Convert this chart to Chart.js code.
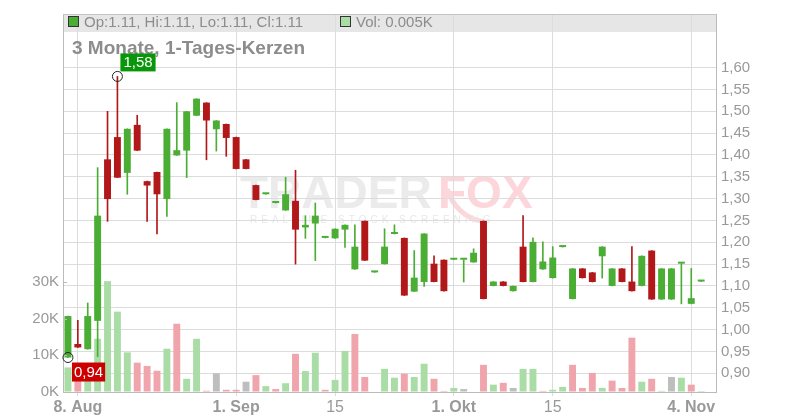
<!DOCTYPE html>
<html lang="de">
<head>
<meta charset="UTF-8">
<title>3 Monate, 1-Tages-Kerzen</title>
<style>
  html, body { margin:0; padding:0; background:#fff; }
  #wrap { width:800px; height:420px; }
</style>
</head>
<body>
<div id="wrap"><canvas id="myChart"></canvas></div>

<script src="https://cdn.jsdelivr.net/npm/chart.js@4.4.1/dist/chart.umd.min.js"></script>
<script>
// Handelstage (der letzte Eintrag ist ein leerer Platz rechts)
var dates = [
  '2024-08-07','2024-08-08','2024-08-09','2024-08-12','2024-08-13','2024-08-14','2024-08-15','2024-08-16',
  '2024-08-19','2024-08-20','2024-08-21','2024-08-22','2024-08-23','2024-08-26','2024-08-27','2024-08-28',
  '2024-08-29','2024-08-30',
  '2024-09-02','2024-09-03','2024-09-04','2024-09-05','2024-09-06','2024-09-09','2024-09-10','2024-09-11',
  '2024-09-12','2024-09-13','2024-09-16','2024-09-17','2024-09-18','2024-09-19','2024-09-20','2024-09-23',
  '2024-09-24','2024-09-25','2024-09-26','2024-09-27','2024-09-30',
  '2024-10-01','2024-10-02','2024-10-03','2024-10-04','2024-10-07','2024-10-08','2024-10-09','2024-10-10',
  '2024-10-11','2024-10-14','2024-10-15','2024-10-16','2024-10-17','2024-10-18','2024-10-21','2024-10-22',
  '2024-10-23','2024-10-24','2024-10-25','2024-10-28','2024-10-29','2024-10-30','2024-10-31',
  '2024-11-01','2024-11-04','2024-11-05','2024-11-06'
];

var opens  = [0.936,0.967,0.955,1.020,1.390,1.441,1.359,1.469,1.340,1.361,1.299,1.399,1.410,1.490,1.520,1.459,
              1.471,1.441,1.390,1.331,1.310,1.290,1.273,1.295,1.234,1.243,1.210,1.209,1.229,1.138,1.249,1.131,
              1.150,1.219,1.210,1.087,1.109,1.151,1.160,1.160,1.160,1.154,1.249,1.100,1.110,1.088,1.190,1.109,
              1.138,1.118,1.189,1.070,1.140,1.131,1.168,1.100,1.140,1.110,1.100,1.181,1.069,1.069,1.151,1.059,
              1.110];
var highs  = [1.031,1.021,1.061,1.371,1.500,1.580,1.460,1.491,1.340,1.361,1.460,1.520,1.500,1.529,1.520,1.479,
              1.471,1.441,1.390,1.331,1.310,1.290,1.349,1.365,1.261,1.290,1.210,1.231,1.240,1.240,1.249,1.131,
              1.231,1.240,1.210,1.181,1.220,1.169,1.160,1.160,1.160,1.185,1.249,1.110,1.110,1.100,1.261,1.210,
              1.201,1.190,1.189,1.140,1.140,1.131,1.190,1.140,1.140,1.190,1.169,1.181,1.140,1.140,1.151,1.140,
              1.110];
var lows   = [0.936,0.959,0.955,0.938,1.248,1.348,1.310,1.410,1.248,1.219,1.259,1.399,1.348,1.490,1.389,1.409,
              1.397,1.368,1.368,1.297,1.310,1.290,1.273,1.150,1.209,1.158,1.210,1.209,1.188,1.138,1.158,1.131,
              1.150,1.219,1.078,1.087,1.099,1.109,1.088,1.160,1.109,1.154,1.070,1.100,1.100,1.088,1.109,1.109,
              1.138,1.118,1.189,1.070,1.118,1.109,1.118,1.100,1.109,1.088,1.100,1.069,1.069,1.069,1.059,1.059,
              1.110];
var closes = [1.031,0.959,1.031,1.261,1.299,1.348,1.460,1.410,1.330,1.310,1.460,1.411,1.500,1.529,1.479,1.479,
              1.439,1.368,1.368,1.297,1.310,1.290,1.310,1.229,1.240,1.261,1.210,1.231,1.240,1.190,1.158,1.131,
              1.190,1.219,1.078,1.119,1.220,1.109,1.088,1.160,1.160,1.176,1.070,1.110,1.100,1.100,1.109,1.201,
              1.156,1.165,1.189,1.140,1.118,1.109,1.190,1.140,1.109,1.088,1.169,1.069,1.140,1.140,1.151,1.072,
              1.110];
// Stueck
var volumes = [6700,5000,3000,14500,30200,21900,10800,8000,7100,5800,11800,18600,3600,14500,350,5100,
               600,600,2800,4600,1600,800,2400,10400,5700,10700,600,3300,11200,15800,4100,0,
               6300,3900,5000,4100,7700,3600,300,1100,800,0,7400,2000,2500,1100,6300,6300,
               300,600,1400,7400,1100,5200,1100,3100,1100,14800,2800,3600,300,4100,3900,2000,
               5];

var priceTicks = [0.90,0.95,1.00,1.05,1.10,1.15,1.20,1.25,1.30,1.35,1.40,1.45,1.50,1.55,1.60];
var volTicks = [0,10000,20000,30000];
var xTickDates = ['2024-08-08','2024-08-30','2024-09-13','2024-10-01','2024-10-15','2024-11-04'];
var xTickLabels = ['8. Aug','1. Sep','15','1. Okt','15','4. Nov'];

var FONT = '"Liberation Sans", Arial, sans-serif';
var C_UP = '#4aad34', C_DOWN = '#b2181a';
var V_UP = '#aadca5', V_DOWN = '#f0a5ac', V_EQ = '#bebebe';

// Kerzen: Farbe nach Open/Close, Volumen nach Close zum Vortag
var candleColors = [], volColors = [], bodies = [], wicks = [];
for (var i = 0; i < closes.length; i++) {
  candleColors.push(closes[i] >= opens[i] ? C_UP : C_DOWN);
  bodies.push([Math.min(opens[i], closes[i]), Math.max(opens[i], closes[i])]);
  wicks.push([lows[i], highs[i]]);
  if (i == 0 || closes[i] > closes[i-1]) volColors.push(V_UP);
  else if (closes[i] < closes[i-1]) volColors.push(V_DOWN);
  else volColors.push(V_EQ);
}

function fmt(v){ return v.toFixed(2).replace('.', ','); }

var kopfPlugin = {
  id: 'kopf',
  beforeDraw: function(chart){
    var ctx = chart.ctx, a = chart.chartArea;
    ctx.save();
    // graues Band oben
    ctx.fillStyle = '#e6e6e6';
    ctx.fillRect(a.left, a.top, a.right - a.left, 18);
    // Wasserzeichen
    ctx.font = 'bold 46px ' + FONT;
    ctx.textBaseline = 'alphabetic';
    ctx.fillStyle = '#ebebeb';
    ctx.fillText('TRADER', 240, 208);
    ctx.fillStyle = '#fcd6db';
    ctx.fillText('FOX', 438, 208);
    ctx.strokeStyle = '#fcd6db';
    ctx.lineWidth = 5;
    ctx.beginPath();
    ctx.arc(490, 178, 44, 0.55 * Math.PI, 0.92 * Math.PI);
    ctx.stroke();
    ctx.font = '10px ' + FONT;
    ctx.letterSpacing = '4px';
    ctx.fillStyle = '#e8e8e8';
    ctx.fillText('REALTIME STOCK SCREENING', 250, 223);
    ctx.restore();
  },
  afterDraw: function(chart){
    var ctx = chart.ctx, a = chart.chartArea;
    var xs = chart.scales.x, ys = chart.scales.y, vs = chart.scales.yv;
    var n = closes.length - 1;
    ctx.save();
    // Rahmen oben
    ctx.strokeStyle = '#c4c4c4';
    ctx.lineWidth = 1;
    ctx.beginPath();
    ctx.moveTo(a.left, a.top + 0.5);
    ctx.lineTo(a.right, a.top + 0.5);
    ctx.stroke();
    // kleine Striche am Volumen-Achse
    ctx.strokeStyle = '#bbb';
    vs.ticks.forEach(function(t){
      var y = Math.round(vs.getPixelForValue(t.value)) + 0.5;
      ctx.beginPath();
      ctx.moveTo(a.left, y);
      ctx.lineTo(a.left + 4, y);
      ctx.stroke();
    });
    // Legende im Band
    ctx.lineWidth = 1;
    ctx.strokeStyle = '#333';
    ctx.fillStyle = C_UP;
    ctx.fillRect(68.5, 16.5, 10, 10);
    ctx.strokeRect(68.5, 16.5, 10, 10);
    ctx.fillStyle = V_UP;
    ctx.fillRect(340.5, 16.5, 10, 10);
    ctx.strokeRect(340.5, 16.5, 10, 10);
    ctx.font = '15px ' + FONT;
    ctx.fillStyle = '#8c8c8c';
    ctx.textBaseline = 'alphabetic';
    ctx.fillText('Op:' + opens[n].toFixed(2) + ', Hi:' + highs[n].toFixed(2) + ', Lo:' + lows[n].toFixed(2) +
                 ', Cl:' + closes[n].toFixed(2), 84, 27);
    ctx.fillText('Vol: ' + (volumes[n] / 1000).toFixed(3) + 'K', 356, 27);
    // Titel
    ctx.font = 'bold 19px ' + FONT;
    ctx.fillText('3 Monate, 1-Tages-Kerzen', 72, 54);

    // Hoch / Tief markieren
    var hi = 0, lo = 0;
    for (var i = 1; i < highs.length; i++) {
      if (highs[i] > highs[hi]) hi = i;
      if (lows[i] < lows[lo]) lo = i;
    }
    ctx.font = '15px ' + FONT;
    ctx.textAlign = 'center';
    ctx.textBaseline = 'middle';
    var px = xs.getPixelForValue(hi), py = ys.getPixelForValue(highs[hi]);
    var txt = fmt(highs[hi]), w = ctx.measureText(txt).width + 6;
    ctx.fillStyle = '#0a960a';
    ctx.fillRect(px + 3, py - 23, w, 18);
    ctx.fillStyle = '#fff';
    ctx.fillText(txt, px + 3 + w / 2, py - 13.5);
    ctx.strokeStyle = '#222';
    ctx.beginPath();
    ctx.arc(px, py, 5, 0, 2 * Math.PI);
    ctx.stroke();

    px = xs.getPixelForValue(lo); py = ys.getPixelForValue(lows[lo]);
    txt = fmt(lows[lo]); w = ctx.measureText(txt).width + 4;
    ctx.fillStyle = '#cc0000';
    ctx.fillRect(px + 4, py + 5, w, 19);
    ctx.fillStyle = '#fff';
    ctx.fillText(txt, px + 4 + w / 2, py + 15);
    ctx.strokeStyle = '#222';
    ctx.beginPath();
    ctx.arc(px, py, 5, 0, 2 * Math.PI);
    ctx.stroke();
    ctx.restore();
  }
};

const ctx = document.getElementById('myChart').getContext('2d');
const myChart = new Chart(ctx, {
  type: 'bar',
  data: {
    labels: dates,
    datasets: [{
      label: 'Volumen',
      yAxisID: 'yv',
      data: volumes,
      backgroundColor: volColors,
      barPercentage: 0.7,
      categoryPercentage: 1,
      grouped: false,
      order: 3
    },{
      label: 'Docht',
      yAxisID: 'y',
      data: wicks,
      backgroundColor: candleColors,
      barThickness: 1,
      grouped: false,
      order: 2
    },{
      label: 'Kerze',
      yAxisID: 'y',
      data: bodies,
      backgroundColor: candleColors,
      barPercentage: 0.7,
      categoryPercentage: 1,
      minBarLength: 2,
      grouped: false,
      order: 1
    }]
  },
  options: {
    responsive: true,
    maintainAspectRatio: false,
    animation: false,
    layout: { padding: { top: 12, left: 0, right: 0, bottom: 0 } },
    plugins: { legend: { display: false }, tooltip: { enabled: false } },
    scales: {
      x: {
        offset: true,
        grid: { offset: false, color: '#dcdcdc', tickLength: 4 },
        border: { color: '#bbb' },
        afterBuildTicks: function(s){
          s.ticks = xTickDates.map(function(d){ return { value: dates.indexOf(d) }; });
        },
        afterFit: function(s){ s.height = 28; },
        ticks: {
          autoSkip: false,
          maxRotation: 0,
          padding: 2,
          color: '#999',
          font: function(c){
            var lab = xTickLabels[c.index] || '';
            return { family: FONT, size: 16, weight: lab.indexOf('.') >= 0 ? 'bold' : 'normal' };
          },
          callback: function(v, i){ return xTickLabels[i]; }
        }
      },
      y: {
        position: 'right',
        min: 0.857,
        max: 1.723,
        grid: { color: '#dcdcdc', drawTicks: false },
        border: { color: '#bbb' },
        afterBuildTicks: function(s){
          s.ticks = priceTicks.map(function(v){ return { value: v }; });
        },
        afterFit: function(s){ s.width = 84; },
        ticks: {
          padding: 5,
          color: '#999',
          font: { family: FONT, size: 15 },
          callback: function(v){ return fmt(v); }
        }
      },
      yv: {
        position: 'left',
        min: 0,
        max: 103000,
        grid: { drawOnChartArea: false, drawTicks: false },
        border: { color: '#bbb' },
        afterBuildTicks: function(s){
          s.ticks = volTicks.map(function(v){ return { value: v }; });
        },
        afterFit: function(s){ s.width = 63; },
        ticks: {
          padding: 4,
          color: '#999',
          font: { family: FONT, size: 15 },
          callback: function(v){ return (v / 1000) + 'K'; }
        }
      }
    }
  },
  plugins: [kopfPlugin]
});
</script>
</body>
</html>
